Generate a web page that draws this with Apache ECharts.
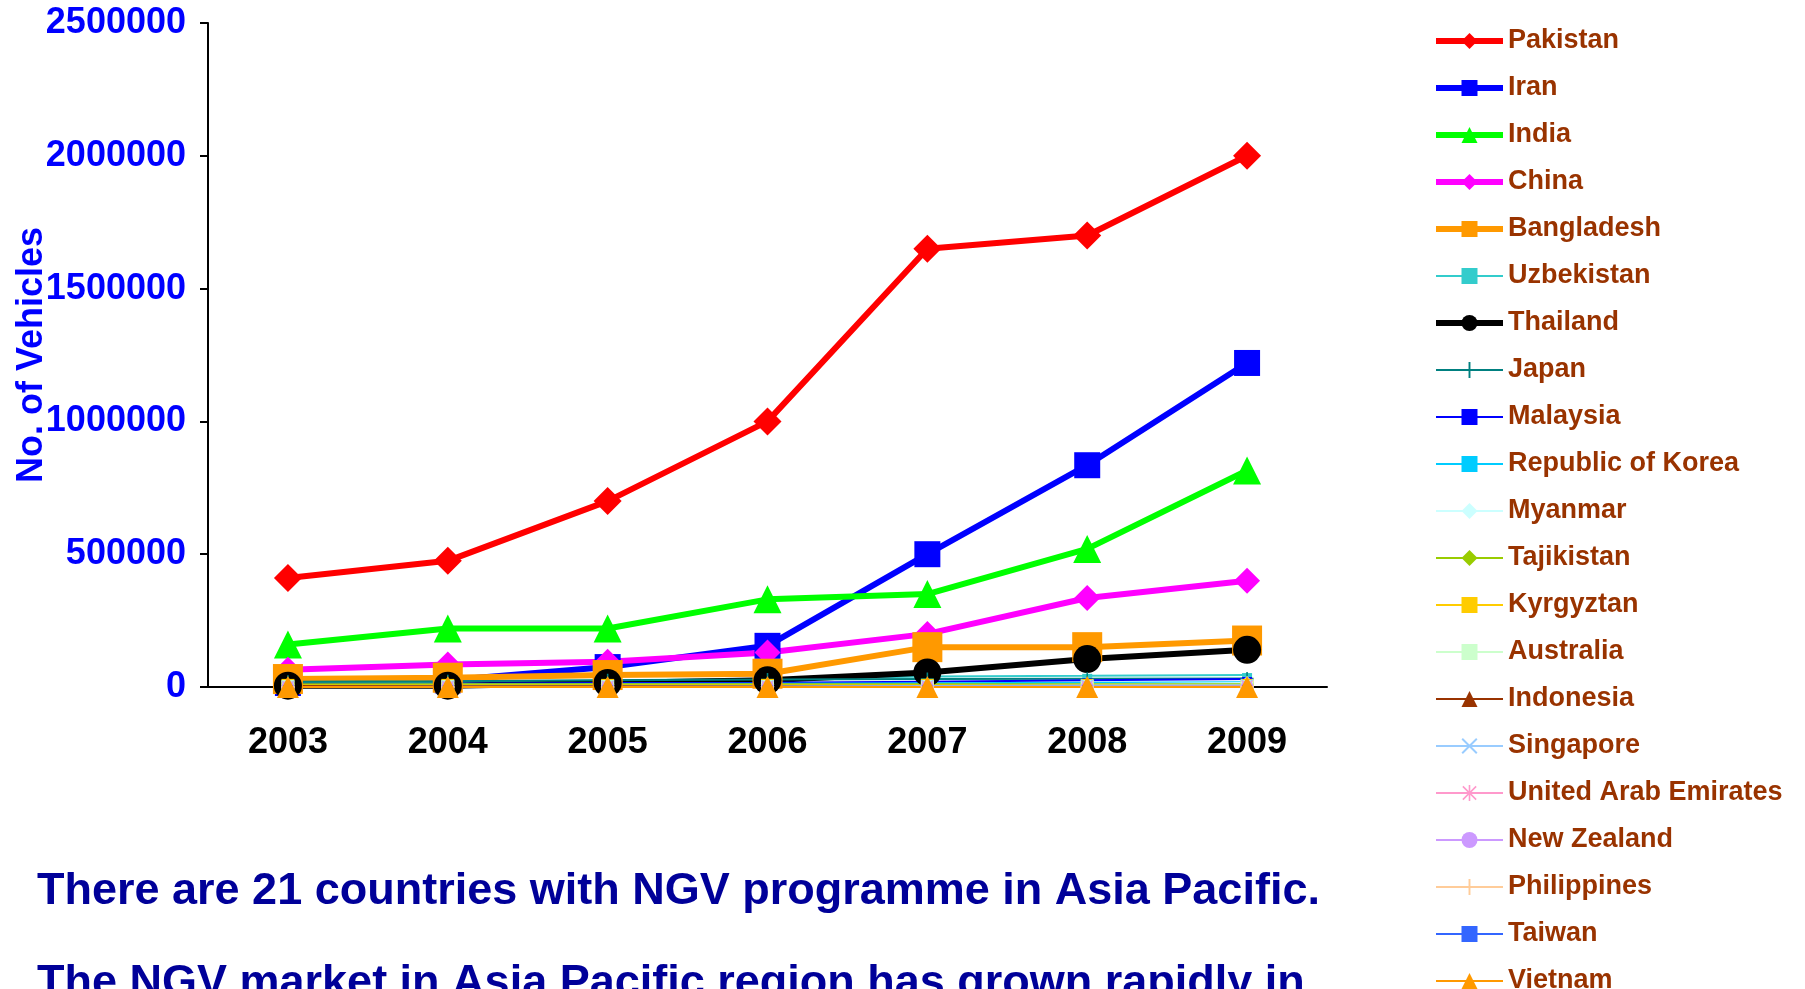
<!DOCTYPE html>
<html>
<head>
<meta charset="utf-8">
<title>NGV vehicles in Asia Pacific</title>
<script src="https://cdn.jsdelivr.net/npm/echarts@6.0.0/dist/echarts.min.js"></script>
<style>
  html, body { margin: 0; padding: 0; background: #fff; }
  #main { width: 1805px; height: 989px; }
</style>
</head>
<body>
<div id="main"></div>
<script>
// categories and tick labels
const years = ['2003', '2004', '2005', '2006', '2007', '2008', '2009']
const yTicks = [0, 500000, 1000000, 1500000, 2000000, 2500000]

// series values
const pakistan = [410000, 475000, 700000, 1000000, 1650000, 1700000, 2000000]
const iran = [15000, 25000, 75000, 155000, 500000, 835000, 1220000]
const india = [160000, 220000, 220000, 330000, 350000, 520000, 815000]
const china = [65000, 85000, 95000, 130000, 200000, 335000, 400000]
const bangladesh = [30000, 35000, 45000, 50000, 150000, 150000, 175000]
const uzbekistan = [15000, 20000, 25000, 30000, 40000, 42000, 45000]
const thailand = [5000, 5000, 15000, 25000, 55000, 105000, 140000]
const japan = [20000, 22000, 25000, 28000, 30000, 31000, 32000]
const malaysia = [10000, 12000, 15000, 16000, 20000, 25000, 30000]
const korea = [8000, 10000, 11000, 12000, 14000, 16000, 18000]
const myanmar = [0, 0, 0, 500, 4000, 10000, 15000]
const tajikistan = [10000, 10000, 10000, 10000, 10000, 10000, 10000]
const kyrgyztan = [6000, 6000, 6000, 6000, 6000, 6000, 6000]
const australia = [2000, 2000, 2000, 2000, 2000, 2000, 2000]
const indonesia = [4000, 4000, 4000, 4000, 4000, 4000, 4000]
const singapore = [100, 500, 1000, 2000, 4000, 6000, 7000]
const uae = [0, 0, 100, 200, 500, 1000, 3000]
const newZealand = [300, 300, 300, 300, 200, 200, 200]
const philippines = [0, 50, 100, 200, 300, 400, 500]
const taiwan = [0, 0, 0, 0, 500, 500, 500]
const vietnam = [0, 0, 0, 0, 0, 0, 100]

// marker shapes
const plusPath = 'path://M44,0h12v44h44v12h-44v44h-12v-44h-44v-12h44z'
const crossPath = 'path://M12,4 L96,88 L88,96 L4,12 Z M88,4 L96,12 L12,96 L4,88 Z'
const starPath = 'path://M45,0h10v100h-10z M0,45h100v10h-100z M12,5 L95,88 L88,95 L5,12 Z M88,5 L95,12 L12,95 L5,88 Z'

function line(name, data, color, width, symbol, size) {
  return {
    name: name,
    type: 'line',
    data: data,
    symbol: symbol,
    symbolSize: size,
    showAllSymbol: true,
    lineStyle: { color: color, width: width },
    itemStyle: { color: color, borderWidth: 0 },
    emphasis: { disabled: true }
  }
}

const series = [
  line('Pakistan', pakistan, '#FF0000', 6, 'diamond', 28),
  line('Iran', iran, '#0000FF', 6, 'rect', 26),
  line('India', india, '#00FF00', 6, 'triangle', 28),
  line('China', china, '#FF00FF', 6, 'diamond', 26),
  line('Bangladesh', bangladesh, '#FF9900', 6, 'rect', 30),
  line('Uzbekistan', uzbekistan, '#33CCCC', 2, 'rect', [10, 4]),
  line('Thailand', thailand, '#000000', 6, 'circle', 28),
  line('Japan', japan, '#008080', 2, plusPath, 13),
  line('Malaysia', malaysia, '#0000FF', 2, 'rect', [10, 4]),
  line('Republic of Korea', korea, '#00CCFF', 2, 'rect', [10, 4]),
  line('Myanmar', myanmar, '#CCFFFF', 2, 'diamond', 14),
  line('Tajikistan', tajikistan, '#99CC00', 2, 'diamond', 14),
  line('Kyrgyztan', kyrgyztan, '#FFCC00', 2, 'rect', 13),
  line('Australia', australia, '#CCFFCC', 2, 'rect', 13),
  line('Indonesia', indonesia, '#993300', 2, 'triangle', 14),
  line('Singapore', singapore, '#99CCFF', 2, crossPath, 13),
  line('United Arab Emirates', uae, '#FF99CC', 2, starPath, 13),
  line('New Zealand', newZealand, '#CC99FF', 2, 'circle', 13),
  line('Philippines', philippines, '#FFCC99', 2, plusPath, 13),
  line('Taiwan', taiwan, '#3366FF', 2, 'rect', [10, 4]),
  line('Vietnam', vietnam, '#FF9900', 2, 'triangle', 22)
]

const myChart = echarts.init(document.getElementById('main'))
const option = {
  animation: false,
  backgroundColor: '#ffffff',
  grid: { left: 208, top: 23, right: 478, bottom: 302, outerBoundsMode: 'none' },
  legend: {
    orient: 'vertical',
    left: 1428,
    top: 22,
    height: 1100,
    itemWidth: 67,
    itemHeight: 20,
    itemGap: 19,
    selectedMode: false,
    data: series.map(s => s.name),
    lineStyle: { width: 'inherit' },
    textStyle: {
      color: '#993300',
      fontFamily: 'Liberation Sans',
      fontWeight: 'bold',
      fontSize: 27,
      lineHeight: 28
    }
  },
  xAxis: {
    type: 'category',
    data: years,
    boundaryGap: true,
    axisLine: { lineStyle: { color: '#000', width: 2 } },
    axisTick: { length: 10, lineStyle: { color: '#000', width: 2 } },
    axisLabel: {
      color: '#000',
      fontFamily: 'Liberation Sans',
      fontWeight: 'bold',
      fontSize: 36,
      margin: 38
    },
    splitLine: { show: false }
  },
  yAxis: {
    type: 'value',
    min: yTicks[0],
    max: yTicks[yTicks.length - 1],
    interval: yTicks[1] - yTicks[0],
    name: 'No. of Vehicles',
    nameLocation: 'middle',
    nameGap: 158,
    nameMoveOverlap: false,
    nameTextStyle: {
      color: '#0000FF',
      fontFamily: 'Liberation Sans',
      fontWeight: 'bold',
      fontSize: 36
    },
    axisLine: { show: true, lineStyle: { color: '#000', width: 2 } },
    axisTick: { show: true, length: 8, lineStyle: { color: '#000', width: 2 } },
    axisLabel: {
      color: '#0000FF',
      fontFamily: 'Liberation Sans',
      fontWeight: 'bold',
      fontSize: 36,
      margin: 22,
      formatter: v => String(v)
    },
    splitLine: { show: false }
  },
  graphic: [
    {
      type: 'text',
      left: 37,
      top: 869,
      style: {
        text: 'There are 21 countries with NGV programme in Asia Pacific.',
        fill: '#000099',
        font: 'bold 45px "Liberation Sans"'
      }
    },
    {
      type: 'text',
      left: 37,
      top: 961,
      style: {
        text: 'The NGV market in Asia Pacific region has grown rapidly in',
        fill: '#000099',
        font: 'bold 45px "Liberation Sans"'
      }
    }
  ],
  series: series
}
myChart.setOption(option)
window.addEventListener('resize', () => {
  myChart.resize()
})
</script>
</body>
</html>
